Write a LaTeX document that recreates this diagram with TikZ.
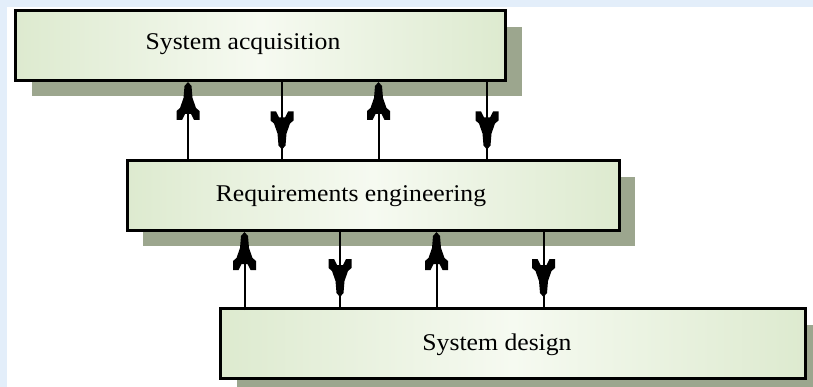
\documentclass[tikz,border=0pt]{standalone}
\usepackage{fontspec}
\setmainfont{Liberation Serif}
\usetikzlibrary{shadows,decorations.markings}
\definecolor{bgblue}{RGB}{227,238,250}
\definecolor{shadowc}{RGB}{156,166,142}
\definecolor{boxedge}{RGB}{221,234,207}
\definecolor{boxmid}{RGB}{246,250,241}
\pgfdeclarearrow{
  name = Rocket,
  parameters = {},
  setup code = {
    \pgfarrowssettipend{0pt}
    \pgfarrowssetbackend{-38pt}
    \pgfarrowssetlineend{-30pt}
    \pgfarrowshullpoint{0pt}{0pt}
    \pgfarrowshullpoint{-38pt}{11.5pt}
    \pgfarrowshullpoint{-38pt}{-11.5pt}
  },
  drawing code = {
    \pgfpathmoveto{\pgfqpoint{0pt}{0pt}}
    \pgfpathlineto{\pgfqpoint{-4pt}{3.5pt}}
    \pgfpathlineto{\pgfqpoint{-16pt}{4.5pt}}
    \pgfpathlineto{\pgfqpoint{-26pt}{8pt}}
    \pgfpathlineto{\pgfqpoint{-29pt}{11.5pt}}
    \pgfpathlineto{\pgfqpoint{-38pt}{11.5pt}}
    \pgfpathlineto{\pgfqpoint{-38pt}{6pt}}
    \pgfpathlineto{\pgfqpoint{-32pt}{3pt}}
    \pgfpathlineto{\pgfqpoint{-32pt}{-3pt}}
    \pgfpathlineto{\pgfqpoint{-38pt}{-6pt}}
    \pgfpathlineto{\pgfqpoint{-38pt}{-11.5pt}}
    \pgfpathlineto{\pgfqpoint{-29pt}{-11.5pt}}
    \pgfpathlineto{\pgfqpoint{-26pt}{-8pt}}
    \pgfpathlineto{\pgfqpoint{-16pt}{-4.5pt}}
    \pgfpathlineto{\pgfqpoint{-4pt}{-3.5pt}}
    \pgfpathclose
    \pgfusepathqfill
  }
}
\tikzset{
  box/.style={draw=black, line width=3pt, inner sep=0pt, minimum height=69.5pt,
    left color=boxedge, right color=boxedge, middle color=boxmid,
    drop shadow={shadow xshift=16pt, shadow yshift=-16pt, fill=shadowc, opacity=1}},
  lbl/.style={anchor=base, inner sep=0pt, font=\fontsize{24}{28}\selectfont},
  conn/.style={line width=2pt, black},
  uparr/.style={conn, -Rocket},
  downarr/.style={conn, decoration={markings, mark=at position -10pt with {\arrow{Rocket}}}, postaction={decorate}},
}
\begin{document}
\begin{tikzpicture}[x=1pt, y=-1pt]
\useasboundingbox (0,0) rectangle (813,387);
\clip (0,0) rectangle (813,387);
\fill[bgblue] (0,0) rectangle (813,387);
\fill[white] (7,7) rectangle (813,387);
% boxes
\node[box, minimum width=490pt] (top) at (260.5,45.75) {};
\node[box, minimum width=492pt] (mid) at (373,195.75) {};
\node[box, minimum width=585pt] (bot) at (513,343.25) {};
% labels
\node[lbl] (ttop) at (243,49.5) {\scalebox{1.07}[1]{System acquisition}};
\node[lbl] (tmid) at (351,202) {\scalebox{1.07}[1]{Requirements engineering}};
\node[lbl] (tbot) at (497,350) {\scalebox{1.07}[1]{System design}};
% x positions
\coordinate (a1) at (188,0);
\coordinate (a2) at (282,0);
\coordinate (a3) at (378.5,0);
\coordinate (a4) at (487,0);
\coordinate (b1) at (244.5,0);
\coordinate (b2) at (340,0);
\coordinate (b3) at (436.5,0);
\coordinate (b4) at (543.5,0);
% connectors top <-> mid
\draw[uparr] (mid.north -| a1) -- (top.south -| a1);
\draw[downarr] (top.south -| a2) -- (mid.north -| a2);
\draw[uparr] (mid.north -| a3) -- (top.south -| a3);
\draw[downarr] (top.south -| a4) -- (mid.north -| a4);
% connectors mid <-> bot
\draw[uparr] ([yshift=-3pt]bot.north -| b1) -- (mid.south -| b1);
\draw[downarr] (mid.south -| b2) -- (bot.north -| b2);
\draw[uparr] (bot.north -| b3) -- (mid.south -| b3);
\draw[downarr] (mid.south -| b4) -- (bot.north -| b4);
\end{tikzpicture}
\end{document}
